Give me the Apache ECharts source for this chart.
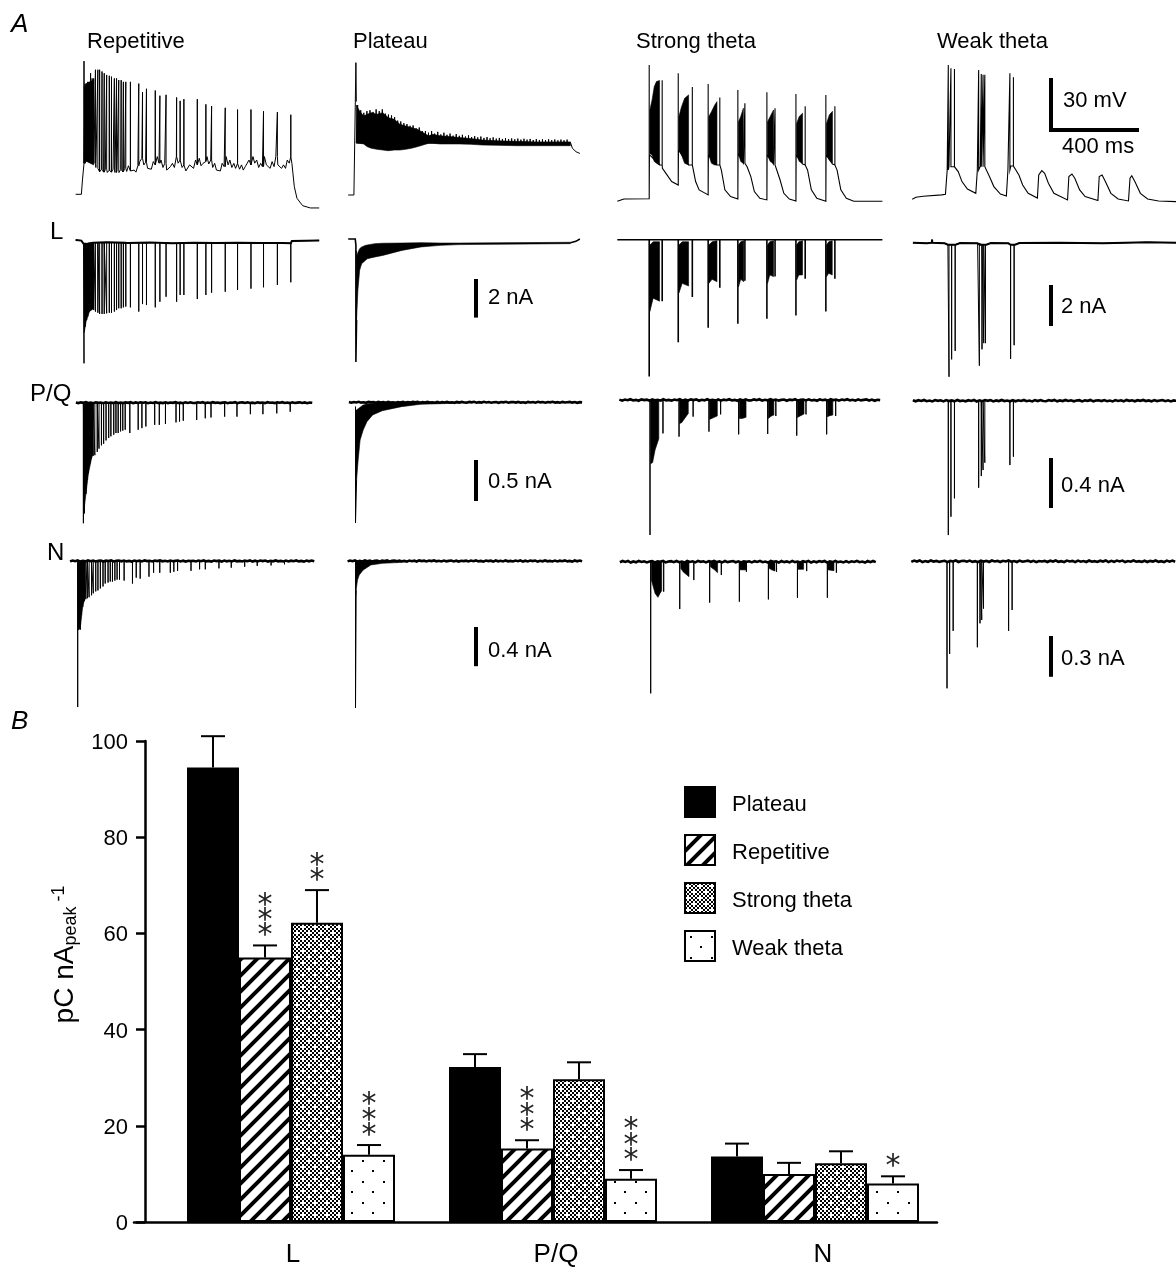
<!DOCTYPE html>
<html>
<head>
<meta charset="utf-8">
<style>html,body{margin:0;padding:0;background:#fff}#chart{width:1176px;height:1268px}</style>
<script src="https://cdn.jsdelivr.net/npm/echarts@6/dist/echarts.min.js"></script>
</head>
<body>
<div id="chart"></div>
<script>
// ---------- Panel B: bars ----------
const categories = ['L', 'P/Q', 'N'];
const protocols = ['Plateau', 'Repetitive', 'Strong theta', 'Weak theta'];
const plateauCharge = [94.5, 32.2, 13.6];
const repetitiveCharge = [55, 15.3, 10];
const strongCharge = [62.2, 29.7, 12.2];
const weakCharge = [14, 9, 8];
const plateauErrTop = [101, 34.9, 16.3];
const repetitiveErrTop = [57.5, 17, 12.3];
const strongErrTop = [69, 33.2, 14.7];
const weakErrTop = [16, 10.8, 9.5];
const plateauStars = [0, 0, 0];
const repetitiveStars = [3, 3, 0];
const strongStars = [2, 0, 0];
const weakStars = [3, 3, 1];

// ---------- Panel A: shared AP-train times (ms from first spike) ----------
const repTimes = [0,5,12,17,23,30,37,44,52,63,71,82,92,103,115,125,138,148,158,169,179,190,211,249,266,284,324,345,373,421,437,454,515,554,580,642,698,759,816,879,940];
const strongTimes = [0,59,132,196,268,321,403,435,535,572,667,709,803,844];
const weakTimes = [0,12,28,138,150,158,166,280,296];

// Repetitive
const repVmPeaks = [77,64,64,65,65,70,67,67,72,72,72,71,70,69,68.5,68,67,67,66,66,65,65,65,64,59,61,60,57,57.5,56,54,55,55,52,51,50,49,49,48,47.5,46];
const repLPeaks = [-6.39,-4.49,-4.15,-3.97,-3.71,-3.63,-3.54,-3.63,-3.71,-3.77,-3.83,-3.83,-3.83,-3.8,-3.77,-3.77,-3.71,-3.63,-3.54,-3.54,-3.49,-3.45,-3.49,-3.71,-3.32,-3.37,-3.49,-3.2,-2.94,-3.2,-2.85,-2.85,-3.06,-2.85,-2.73,-2.68,-2.59,-2.52,-2.45,-2.33,-2.19];
const repPQPeaks = [-1.47,-1.35,-1.11,-.94,-.86,-.74,-.68,-.65,-.64,-.6,-.56,-.52,-.5,-.46,-.43,-.41,-.39,-.37,-.37,-.35,-.34,-.33,-.37,-.33,-.31,-.29,-.27,-.27,-.26,-.24,-.23,-.22,-.21,-.19,-.18,-.17,-.17,-.14,-.14,-.13,-.11];
const repNPeaks = [-1.49,-.7,-.7,-.55,-.47,-.41,-.39,-.38,-.37,-.35,-.33,-.31,-.3,-.28,-.26,-.23,-.22,-.21,-.21,-.2,-.19,-.19,-.2,-.23,-.17,-.18,-.16,-.12,-.12,-.12,-.11,-.1,-.1,-.085,-.085,-.075,-.068,-.058,-.05,-.045,-.034];
const repVmBack = [[-38,0],[-12,0],[-7,8.3],[0,17.9],[10,19.8],[28,19.8],[45,17.9],[54,15.5],[63,15],[71,13],[80,14.5],[89,12.8],[97,14.5],[106,12.6],[115,14],[124,12.8],[132,14.5],[141,12.6],[150,14],[159,12.6],[167,14.4],[176,13],[185,15],[194,13.2],[202,16.5],[211,13.5],[219,12.5],[228,14],[236,12.8],[245,16.5],[254,19],[263,20.8],[272,17],[280,18.5],[289,15],[298,16],[306,14.5],[315,18.9],[324,17],[333,21.8],[341,18],[350,19.8],[359,15.5],[367,17.9],[376,14],[385,13],[393,16],[402,17.9],[411,15.5],[420,21.8],[428,18],[437,19.8],[446,15.5],[454,17],[463,13.5],[472,14],[480,17],[489,17.9],[498,15],[507,19.8],[515,17],[524,20.8],[532,16.5],[541,17.9],[550,19],[559,21.8],[567,17.5],[576,19.8],[585,15.5],[594,17.9],[602,14],[611,15],[620,13.5],[628,17.9],[637,16],[646,21.8],[655,17],[663,19.8],[672,15.5],[681,17.9],[689,15],[698,17.9],[707,14.5],[716,17],[724,14],[733,16],[742,17],[750,19.8],[759,17],[768,21.8],[776,18],[785,19.8],[794,15.5],[803,17.9],[811,16],[820,21.8],[829,17],[837,17.9],[846,15],[855,18.9],[864,16],[872,21.8],[881,17],[890,17.9],[898,15],[907,17],[916,15],[924,19.8],[933,18],[940,21.8],[945,17.9],[956,4.4],[968,-2.3],[994,-6.6],[1029,-7.9],[1069,-7.9]];
const repLBack = [[-38,0],[-12,-.03],[-2,-.2],[10,-.2],[40,-.14],[100,-.12],[200,-.15],[300,-.13],[400,-.17],[500,-.14],[600,-.16],[700,-.14],[800,-.16],[900,-.15],[940,-.17],[945,-.05],[1069,-.02]];
const repVmBandT = [1,12,44];
const repVmBandUpper = [62,64,66];
const repVmBandLower = [18,19,17];
const repLBandT = [1,10,25,44];
const repLBandUpper = [-.2,-.2,-.15,-.15];
const repLBandLower = [-4.8,-4.2,-3.7,-3.55];
const repPQBandT = [1,12,23,37,44];
const repPQBandUpper = [0,0,0,0,0];
const repPQBandLower = [-1.35,-1.1,-.86,-.68,-.62];
const repNBandT = [1,5,12,23,33];
const repNBandUpper = [0,0,0,0,0];
const repNBandLower = [-.7,-.7,-.68,-.46,-.38];
const repPQSpan = [-34, 1040];
const repNSpan = [-35, 1075];

// Plateau
const plateauVmLead = [[-35,0],[-9,0],[0,0],[0,76.5],[2,54]];
const plateauVmTail = [[975,30.5],[984,27],[1001,25],[1018,24]];
const plateauVmBandT = [2,17,35,52,70,96,122,148,174,200,226,252,279,305,331,348,383,426,470,522,574,644,731,818,905,975];
const plateauVmUpper = [52,48.5,45.7,46.7,47.6,46.7,47.6,44.7,43.8,40.9,39.9,39,38,36.1,34.2,35.1,34.2,33.8,33.2,32.6,31.8,31.3,31,30.7,30.7,30.7];
const plateauVmLower = [29.9,29.9,29.5,27.9,27,26.4,26,25.6,26,26,26.4,27,27.9,28.9,29.9,29.9,29.5,29.5,29.5,29.3,28.9,28.7,28.5,28.5,28.5,28.5];
const plateauVmToothTimes = [8,22,36,50,64,78,92,106,120,134,148,162,176,190,204,218,232,246,260,274,288,302,316,330,344,358,372,386,400,414,428,442,456,470,484,498,512,526,540,554,568,582,596,610,624,638,652,666,680,694,708,722,736,750,764,778,792,806,820,834,848,862,876,890,904,918,932,946,960];
const plateauVmToothPeaks = [52,49,47.5,48.5,49,48,49.5,48.5,49.5,47,46.5,46,45,43,42.5,41.5,41,40,40.2,38.5,39,37,37,36,37,35.5,36.5,35,36,34.8,35.5,34.3,35.2,34.2,34.8,33.8,34.5,33.5,34,33.3,33.8,33,33.5,32.8,33.3,32.6,33,32.4,32.9,32.3,32.7,32.2,32.6,32,32.5,32,32.4,31.8,32.3,31.8,32.2,31.7,32.2,31.7,32.1,31.6,32,31.6,32];
const plateauVmToothFloor = [[2,30],[975,30]];
const plateauLLead = [[-35,0],[-3,0],[0,-.3],[0,-6.37],[3,-4.2]];
const plateauLTail = [[975,-.19],[1000,-.12],[1018,0]];
const plateauLBandT = [1,3,9,17,26,44,52,87,122,209,296,383,470,975];
const plateauLUpper = [-.6,-.93,-.7,-.5,-.42,-.33,-.31,-.24,-.22,-.21,-.19,-.21,-.21,-.17];
const plateauLLower = [-5,-4.2,-2.66,-1.62,-1.28,-1.1,-1.02,-.93,-.85,-.59,-.41,-.33,-.29,-.24];
const plateauPQLead = [[0,-.05],[0,-1.47],[5,-.95]];
const plateauPQBandT = [2,5,12,21,35,52,78,122,209,296,470];
const plateauPQUpper = [-.093,-.093,-.08,-.06,-.033,-.02,-.012,-.004,0,0,0];
const plateauPQLower = [-1,-.947,-.703,-.459,-.337,-.236,-.154,-.102,-.053,-.024,-.01];
const plateauNLead = [[0,0],[0,-1.5],[3,-.3]];
const plateauNBandT = [1,3,9,17,35,70,122,209];
const plateauNUpper = [0,0,0,0,0,0,0,0];
const plateauNLower = [-.35,-.296,-.194,-.143,-.092,-.04,-.024,-.014];
const plateauPQSpan = [-30, 1030];
const plateauNSpan = [-36, 1030];

// Strong theta
const strongVmPeaks = [78.8,70,74,66,67.8,60,64.4,56.7,63,53.8,62,55,61.5,55];
const strongLPeaks = [-6.67,-3,-5,-2.8,-4.3,-2.34,-4.1,-2,-3.85,-1.8,-3.7,-1.9,-3.5,-1.9];
const strongPQPeaks = [-1.08,-.267,-.293,-.133,-.253,-.115,-.275,-.139,-.272,-.128,-.285,-.115,-.275,-.128];
const strongNPeaks = [-.968,-.22,-.348,-.135,-.301,-.098,-.294,-.074,-.277,-.074,-.265,-.069,-.265,-.081];
const strongVmBack = [[-145,0],[-115,1.3],[0,1.5],[1,27],[47,21],[60,19],[77,16],[102,11.4],[132,9.4],[133,29.7],[179,21],[196,21],[211,11.4],[227,6.6],[268,3.7],[269,26.8],[308,21],[321,21],[328,18],[344,6.6],[370,2.7],[403,1.3],[404,27.7],[428,22],[435,22],[445,20],[462,14.3],[478,5.6],[503,1.7],[535,.8],[536,26.8],[565,21.5],[572,21],[595,12.3],[612,4.6],[637,1.3],[667,.2],[668,26.8],[697,21.5],[709,21],[720,18],[737,6.6],[762,1.7],[803,0],[804,26.8],[833,21.5],[844,21],[854,18],[871,6.6],[896,1.7],[930,0],[1060,0]];
const strongVmBandT = [[3,13,23,33,47],[135,147,161,179],[271,283,298,308],[406,416,428],[538,550,565],[670,682,697],[806,819,833]];
const strongVmUpper = [[52.8,58.6,66.3,69.2,69.8],[49,54.7,59.5,61.5],[49,51.8,55.7,57.6],[46,49,53.8],[46,49,52.8],[45,49,50.9],[45,50,52]];
const strongVmLower = [[27.7,26.8,23,22,21],[29.7,26.8,22,21],[26.8,22,21,21],[27.7,23,22],[26.8,23,22],[26.8,23,22],[26.8,24,22]];
const strongLBandT = [[3,18,47],[135,150,179],[271,286,308],[406,416,430],[538,548,565],[670,680,697],[806,816,832]];
const strongLUpper = [[-.26,-.1,-.1],[-.26,-.1,-.1],[-.26,-.1,-.05],[-.26,-.1,-.05],[-.26,-.1,-.05],[-.26,-.1,-.05],[-.26,-.1,-.05]];
const strongLLower = [[-3.5,-2.85,-3],[-2.6,-2.13,-2.26],[-2.13,-1.93,-2.05],[-2.3,-1.93,-2.05],[-2.13,-1.72,-1.8],[-1.97,-1.72,-1.72],[-1.8,-1.64,-1.72]];
const strongPQBandT = [[3,12,23,40],[135,144,174],[271,290,306],[406,420,433],[538,550,563],[670,685,700],[806,818,831]];
const strongPQUpper = [[0,0,0,0],[0,0,0],[0,0,0],[0,0,0],[0,0,0],[0,0,0],[0,0,0]];
const strongPQLower = [[-.51,-.5,-.4,-.31],[-.187,-.181,-.107],[-.155,-.14,-.128],[-.147,-.147,-.14],[-.147,-.13,-.12],[-.139,-.125,-.112],[-.133,-.125,-.12]];
const strongNBandT = [[3,20,33,42,50],[137,147,174],[271,290,304],[406,420,433],[538,550,565],[670,685,695],[806,818,833]];
const strongNUpper = [[0,0,0,0,0],[0,0,0],[0,0,0],[0,0,0],[0,0,0],[0,0,0],[0,0,0]];
const strongNLower = [[-.135,-.233,-.262,-.233,-.213],[-.049,-.074,-.11],[-.037,-.06,-.081],[-.06,-.06,-.06],[-.049,-.06,-.069],[-.056,-.056,-.056],[-.06,-.063,-.066]];
const strongLSpan = [-145, 1060];
const strongPQSpan = [-139, 1046];
const strongNSpan = [-140, 1023];

// Weak theta
const weakVmPeaks = [78.8,76.9,76.5,75.9,73.6,73.2,73.2,74,71.7];
const weakLPeaks = [-6.54,-5.69,-5.28,-6,-5.2,-4.9,-4.9,-5.67,-5];
const weakPQPeaks = [-1.075,-.928,-.781,-.696,-.603,-.555,-.496,-.515,-.448];
const weakNPeaks = [-.934,-.681,-.512,-.632,-.456,-.431,-.348,-.512,-.358];
const weakVmBack = [[-164,1.2],[-147,2.3],[-114,2.9],[-30,3.7],[-13,4],[-5,18.1],[3,20],[28,20],[45,17.2],[62,11.4],[87,7.1],[125,4.6],[132,18.1],[145,20],[171,19],[187,14.3],[207,8.5],[237,4.2],[264,3.1],[271,18.1],[284,20.4],[304,19.7],[321,15.2],[338,9.4],[363,4.6],[405,1.9],[411,15.2],[425,17.7],[438,16.2],[455,10.4],[480,4.6],[542,.8],[548,14.3],[562,15.8],[575,13.3],[597,6.6],[622,2.7],[680,.4],[686,14.3],[699,15.2],[714,11.4],[739,4.6],[772,1.3],[819,.2],[826,13.3],[834,14.8],[848,11.4],[873,4.6],[906,1.3],[956,.2],[1037,-.2]];
const weakLBack = [[-164,0],[-100,-.03],[-78,0],[-77,.15],[-76,0],[-20,-.03],[-5,-.1],[30,-.1],[50,-.02],[130,-.03],[140,-.1],[170,-.1],[190,-.02],[270,-.03],[280,-.1],[300,-.1],[320,-.02],[500,0],[700,-.03],[900,.02],[1037,0]];
const weakPQSpan = [-161, 1037];
const weakNSpan = [-162, 1037];

// Recording noise on the P/Q and N baselines (nA)
const pqNoise = [.003,-.005,.004,-.002,.006,-.004,.001,-.006,.005,-.001,.003,-.006,.005,-.003,.002,-.005,.006,-.003,.001,-.005,.004,-.002,.006,-.006,.003,-.004,.005,-.001,.005,-.006,.002,-.003,.006,-.003,.001,-.005,.004,-.005,.003,-.002,.006,-.004,.001,-.006,.005,-.003,.005,-.003,-.004,.005,-.001,.006,-.005,.002,-.003,.006,-.002,.003,-.005,.001,.004,-.006,.003,-.001,.006,-.005,.002,.004,-.003,.005,-.004,.001,-.006,.005,-.002,.003,-.005,.006,-.001,.003,-.005,.004,-.001,.006,-.003,.002,-.005,.005,-.003,.001,.005,-.004,.003,-.006,.002,-.001];
const nNoise = [-.004,.005,-.002,.006,-.006,.002,-.004,.006,-.002,.003,-.005,.001,.004,-.006,.003,-.001,.006,-.005,.002,.004,-.003,.005,-.004,.001,-.006,.005,-.002,.003,-.005,.006,-.001,.003,-.005,.004,-.001,.006,-.003,.002,-.005,.005,-.003,.001,.005,-.004,.003,-.006,.002,-.001,.003,-.005,.004,-.002,.006,-.004,.001,-.006,.005,-.001,.003,-.006,.005,-.003,.002,-.005,.006,-.003,.001,-.005,.004,-.002,.006,-.006,.003,-.004,.005,-.001,.005,-.006,.002,-.003,.006,-.003,.001,-.005,.004,-.005,.003,-.002,.006,-.004,.001,-.006,.005,-.003,.005,-.003];

// ---------- Layout (pixels) ----------
const PX_PER_MS = 88 / 400;
const VM_SCALE = 1.73;
const colBox = [[60, 335], [340, 600], [610, 900], [905, 1176]];
const rowBox = [[50, 218], [222, 382], [385, 542], [545, 712]];
const panelOrigin = [
  [[84, 194.3, VM_SCALE], [84, 240, 19.3], [83.4, 402.7, 82], [77.7, 561, 98]],
  [[355.9, 195, VM_SCALE], [355.9, 239, 19.3], [355.5, 402.3, 82], [355.5, 561, 98]],
  [[649.2, 201.3, VM_SCALE], [649.2, 239.7, 20.5], [650, 400, 125], [650.7, 561.7, 136]],
  [[948.3, 201.3, VM_SCALE], [949, 242.7, 20.5], [948.3, 400.7, 125], [947, 561.3, 136]]
];

// ---------- Helpers ----------
function withSpikes(back, times, peaks) {
  const pts = []; let j = 0;
  back.forEach((p, i) => {
    while (j < times.length && times[j] <= p[0]) {
      const level = (times[j] === p[0] || i === 0) ? p[1] : back[i - 1][1];
      pts.push([times[j], level], [times[j], peaks[j]], [times[j], level]);
      j++;
    }
    pts.push(p);
  });
  return pts;
}
function segments() {
  const out = [];
  Array.from(arguments).forEach((s, i) => { if (i) out.push(['-', '-']); s.forEach(p => out.push(p)); });
  return out;
}
function band(t, up, low) {
  const poly = t.map((x, i) => [x, up[i]]);
  for (let i = t.length - 1; i >= 0; i--) poly.push([t[i], low[i]]);
  return poly;
}
function noiseLine(span, values) {
  const step = (span[1] - span[0]) / (values.length - 1);
  return values.map((v, i) => [span[0] + i * step, v]);
}

const grids = [], xAxes = [], yAxes = [], series = [];
function addPanel(col, row) {
  const o = panelOrigin[col][row], cb = colBox[col], rb = rowBox[row];
  const idx = grids.length;
  grids.push({ left: cb[0], top: rb[0], width: cb[1] - cb[0], height: rb[1] - rb[0] });
  xAxes.push({ type: 'value', gridIndex: idx, show: false, scale: true,
    min: (cb[0] - o[0]) / PX_PER_MS, max: (cb[1] - o[0]) / PX_PER_MS, splitLine: { show: false } });
  yAxes.push({ type: 'value', gridIndex: idx, show: false, scale: true,
    min: (o[1] - rb[1]) / o[2], max: (o[1] - rb[0]) / o[2], splitLine: { show: false } });
  return { idx, o };
}
function addLine(p, data, width) {
  series.push({ type: 'line', xAxisIndex: p.idx, yAxisIndex: p.idx, data, symbol: 'none', showSymbol: false,
    clip: false, silent: true, animation: false, connectNulls: false,
    lineStyle: { color: '#000', width: width, cap: 'butt', join: 'miter' } });
}
function addBands(p, polys) {
  series.push({ type: 'custom', xAxisIndex: p.idx, yAxisIndex: p.idx, silent: true, animation: false, clip: false,
    data: polys.map(q => q[0]),
    renderItem: (params, api) => ({ type: 'polygon', shape: { points: polys[params.dataIndex].map(v => api.coord(v)) }, style: { fill: '#000', stroke: '#000', lineWidth: 0.6 } }) });
}
function addScaleBar(p, pxX, pxTop, length) {
  const t = (pxX - p.o[0]) / PX_PER_MS, v = (p.o[1] - pxTop) / p.o[2];
  addLine(p, [[t, v], [t, v - length]], 4);
}
function bandsFrom(T, U, L) { return T.map((t, i) => band(t, U[i], L[i])); }

// Column 0: repetitive
let p = addPanel(0, 0); addLine(p, withSpikes(repVmBack, repTimes, repVmPeaks), 1); addBands(p, [band(repVmBandT, repVmBandUpper, repVmBandLower)]);
p = addPanel(0, 1); addLine(p, withSpikes(repLBack, repTimes, repLPeaks), 1); addLine(p, repLBack, 2); addBands(p, [band(repLBandT, repLBandUpper, repLBandLower)]);
p = addPanel(0, 2); addLine(p, withSpikes([[repPQSpan[0], 0], [repPQSpan[1], 0]], repTimes, repPQPeaks), 1); addBands(p, [band(repPQBandT, repPQBandUpper, repPQBandLower)]); addLine(p, noiseLine(repPQSpan, pqNoise), 2.6);
p = addPanel(0, 3); addLine(p, withSpikes([[repNSpan[0], 0], [repNSpan[1], 0]], repTimes, repNPeaks), 1); addBands(p, [band(repNBandT, repNBandUpper, repNBandLower)]); addLine(p, noiseLine(repNSpan, nNoise), 2.6);
// Column 1: plateau
p = addPanel(1, 0); addLine(p, segments(plateauVmLead, plateauVmTail), 1); addLine(p, withSpikes(plateauVmToothFloor, plateauVmToothTimes, plateauVmToothPeaks), 1); addBands(p, [band(plateauVmBandT, plateauVmUpper, plateauVmLower)]);
p = addPanel(1, 1); addLine(p, segments(plateauLLead, plateauLTail), 1.6); addBands(p, [band(plateauLBandT, plateauLUpper, plateauLLower)]);
addScaleBar(p, 476, 279, 2);
p = addPanel(1, 2); addLine(p, plateauPQLead, 1); addBands(p, [band(plateauPQBandT, plateauPQUpper, plateauPQLower)]); addLine(p, noiseLine(plateauPQSpan, pqNoise), 2.6);
addScaleBar(p, 476, 460, 0.5);
p = addPanel(1, 3); addLine(p, plateauNLead, 1); addBands(p, [band(plateauNBandT, plateauNUpper, plateauNLower)]); addLine(p, noiseLine(plateauNSpan, nNoise), 2.6);
addScaleBar(p, 476, 627, 0.4);
// Column 2: strong theta
p = addPanel(2, 0); addLine(p, withSpikes(strongVmBack, strongTimes, strongVmPeaks), 1.1); addBands(p, bandsFrom(strongVmBandT, strongVmUpper, strongVmLower));
p = addPanel(2, 1); addLine(p, withSpikes([[strongLSpan[0], 0], [strongLSpan[1], 0]], strongTimes, strongLPeaks), 1.6); addBands(p, bandsFrom(strongLBandT, strongLUpper, strongLLower));
p = addPanel(2, 2); addLine(p, withSpikes([[strongPQSpan[0], 0], [strongPQSpan[1], 0]], strongTimes, strongPQPeaks), 1); addBands(p, bandsFrom(strongPQBandT, strongPQUpper, strongPQLower)); addLine(p, noiseLine(strongPQSpan, pqNoise), 2.6);
p = addPanel(2, 3); addLine(p, withSpikes([[strongNSpan[0], 0], [strongNSpan[1], 0]], strongTimes, strongNPeaks), 1); addBands(p, bandsFrom(strongNBandT, strongNUpper, strongNLower)); addLine(p, noiseLine(strongNSpan, nNoise), 2.6);
// Column 3: weak theta
p = addPanel(3, 0); addLine(p, withSpikes(weakVmBack, weakTimes, weakVmPeaks), 1.1);
{ // 30 mV / 400 ms scale bar
  const t = (1051 - p.o[0]) / PX_PER_MS, v = (p.o[1] - 78) / p.o[2];
  addLine(p, [[t, v], [t, v - 30], [t + 400, v - 30]], 4);
}
p = addPanel(3, 1); addLine(p, withSpikes(weakLBack, weakTimes, weakLPeaks), 1); addLine(p, weakLBack, 2); addScaleBar(p, 1051, 285, 2);
p = addPanel(3, 2); addLine(p, withSpikes([[weakPQSpan[0], 0], [weakPQSpan[1], 0]], weakTimes, weakPQPeaks), 1); addLine(p, noiseLine(weakPQSpan, pqNoise), 2.6); addScaleBar(p, 1051, 458, 0.4);
p = addPanel(3, 3); addLine(p, withSpikes([[weakNSpan[0], 0], [weakNSpan[1], 0]], weakTimes, weakNPeaks), 1); addLine(p, noiseLine(weakNSpan, nNoise), 2.6); addScaleBar(p, 1051, 636, 0.3);

// ---------- Fill patterns ----------
function tile(w, h, draw) {
  const c = document.createElement('canvas'); c.width = w; c.height = h;
  const g = c.getContext('2d'); g.fillStyle = '#fff'; g.fillRect(0, 0, w, h); g.fillStyle = '#000'; g.strokeStyle = '#000';
  draw(g); return c;
}
const hatchTile = tile(16, 16, g => {
  g.lineWidth = 4; g.beginPath();
  [-16, 0, 16].forEach(o => { g.moveTo(o - 2, 18); g.lineTo(o + 18, -2); });
  g.stroke();
});
const checkTile = tile(12, 12, g => {
  for (let y = 0; y < 12; y += 2) for (let x = 0; x < 12; x += 2) if (((x + y) / 2) % 2 === 0) g.fillRect(x, y, 2, 2);
  g.fillStyle = '#fff'; g.fillRect(2, 2, 2, 2); g.fillRect(8, 8, 2, 2);
});
const dotTile = tile(21, 21, g => { g.fillRect(5, 5, 2, 2); g.fillRect(15, 15, 2, 2); });
const fills = ['#000', { image: hatchTile, repeat: 'repeat' }, { image: checkTile, repeat: 'repeat' }, { image: dotTile, repeat: 'repeat' }];

// ---------- Bar grid ----------
const BAR_WIDTH = 52, CAP_HALF = 12, STAR_GAP = 15.3, STAR_LIFT = 16;
const barGrid = grids.length;
grids.push({ left: 160, top: 741, width: 786, height: 481, outerBoundsMode: 'none' });
xAxes.push({ type: 'category', gridIndex: barGrid, data: categories,
  axisLine: { show: false }, axisTick: { show: false },
  axisLabel: { margin: 20, color: '#000', fontFamily: 'Liberation Sans', fontSize: 26,
    formatter: (v, i) => ['{a|' + v + '}', '{b|' + v + '}', '{c|' + v + '}'][i],
    rich: { a: { fontSize: 26, fontFamily: 'Liberation Sans', padding: [0, 0, 0, 4] }, b: { fontSize: 26, fontFamily: 'Liberation Sans', padding: [0, 0, 0, 6] }, c: { fontSize: 26, fontFamily: 'Liberation Sans', padding: [0, 0, 0, 16] } } } });
yAxes.push({ type: 'value', gridIndex: barGrid, min: 0, max: 100, interval: 20, offset: 15,
  axisLine: { show: true, lineStyle: { color: '#000', width: 2.5 } },
  axisTick: { show: true, length: 9, lineStyle: { color: '#000', width: 2.5 } },
  axisLabel: { color: '#000', fontFamily: 'Liberation Sans', fontSize: 22, margin: 17, formatter: '{t|{value}}', rich: { t: { fontSize: 22, fontFamily: 'Liberation Sans', padding: [4, 0, 0, 0] } } },
  splitLine: { show: false },
  name: '{a|pC nA}{b|peak}{c|-1}', nameLocation: 'middle', nameRotate: 90, nameGap: 60,
  nameTextStyle: { padding: [0, 0, 0, 54], color: '#000', fontFamily: 'Liberation Sans',
    rich: { a: { fontSize: 28, fontFamily: 'Liberation Sans' }, b: { fontSize: 18, fontFamily: 'Liberation Sans', padding: [12, 0, 0, 0] }, c: { fontSize: 18, fontFamily: 'Liberation Sans', padding: [0, 0, 12, 5] } } } });
// baseline rule of the bar graph
const ruleGrid = grids.length;
grids.push({ left: 134, top: 741, width: 803, height: 481, outerBoundsMode: 'none' });
xAxes.push({ type: 'value', gridIndex: ruleGrid, min: 0, max: 1, axisLine: { show: true, onZero: false, lineStyle: { color: '#000', width: 2.5 } }, axisTick: { show: false }, axisLabel: { show: false }, splitLine: { show: false } });
yAxes.push({ type: 'value', gridIndex: ruleGrid, min: 0, max: 1, show: false, splitLine: { show: false } });

const chargeSets = [plateauCharge, repetitiveCharge, strongCharge, weakCharge];
const errSets = [plateauErrTop, repetitiveErrTop, strongErrTop, weakErrTop];
const starSets = [plateauStars, repetitiveStars, strongStars, weakStars];
protocols.forEach((name, s) => {
  series.push({ type: 'bar', name, xAxisIndex: barGrid, yAxisIndex: barGrid, data: chargeSets[s], barWidth: BAR_WIDTH, barGap: 0,
    animation: false, silent: true, itemStyle: { color: fills[s], borderColor: '#000', borderWidth: 2 } });
});
protocols.forEach((name, s) => {
  series.push({ type: 'custom', xAxisIndex: barGrid, yAxisIndex: barGrid, animation: false, silent: true, z: 5,
    encode: { x: 0, y: 2 },
    data: categories.map((c, i) => [i, chargeSets[s][i], errSets[s][i], starSets[s][i]]),
    renderItem: (params, api) => {
      const base = api.coord([api.value(0), api.value(1)]), top = api.coord([api.value(0), api.value(2)]);
      const x = base[0] + (s - 1.5) * BAR_WIDTH, lineStyle = { stroke: '#000', lineWidth: 2, fill: 'none' };
      const children = [
        { type: 'line', shape: { x1: x, y1: base[1], x2: x, y2: top[1] }, style: lineStyle },
        { type: 'line', shape: { x1: x - CAP_HALF, y1: top[1], x2: x + CAP_HALF, y2: top[1] }, style: lineStyle }
      ];
      for (let k = 0; k < api.value(3); k++) {
        children.push({ type: 'text', style: { text: '*', x, y: top[1] - STAR_LIFT - k * STAR_GAP + 7, textAlign: 'center', textVerticalAlign: 'middle', font: '30px "DejaVu Sans"', fill: '#222' } });
      }
      return { type: 'group', children };
    } });
});

// ---------- Text ----------
const T = '22px "Liberation Sans"', R = '24px "Liberation Sans"';
const textItems = [
  ['A', 11, 25, 'italic 26px "Liberation Sans"'], ['B', 11, 722, 'italic 26px "Liberation Sans"'],
  ['Repetitive', 87, 42, T], ['Plateau', 353, 42, T], ['Strong theta', 636, 42, T], ['Weak theta', 937, 42, T],
  ['L', 50, 232, R], ['P/Q', 30, 394, R], ['N', 47, 553, R],
  ['30 mV', 1063, 101, T], ['400 ms', 1062, 147, T],
  ['2 nA', 488, 298, T], ['2 nA', 1061, 307, T],
  ['0.5 nA', 488, 482, T], ['0.4 nA', 1061, 486, T],
  ['0.4 nA', 488, 651, T], ['0.3 nA', 1061, 659, T]
];

const chart = echarts.init(document.getElementById('chart'), null, { renderer: 'canvas' });
chart.setOption({
  animation: false, backgroundColor: '#fff',
  grid: grids, xAxis: xAxes, yAxis: yAxes, series,
  legend: { data: protocols, orient: 'vertical', left: 684, top: 786, padding: 0, itemWidth: 30, itemHeight: 30, itemGap: 16,
    icon: 'rect', selectedMode: false, formatter: '{t|{name}}',
    textStyle: { color: '#000', fontFamily: 'Liberation Sans', fontSize: 22, rich: { t: { fontSize: 22, fontFamily: 'Liberation Sans', padding: [5, 0, 0, 12] } } } },
  graphic: textItems.map(t => ({ type: 'text', silent: true, z: 100, style: { text: t[0], x: t[1], y: t[2], font: t[3], fill: '#000', textAlign: 'left', textVerticalAlign: 'middle' } }))
});
</script>
</body>
</html>
